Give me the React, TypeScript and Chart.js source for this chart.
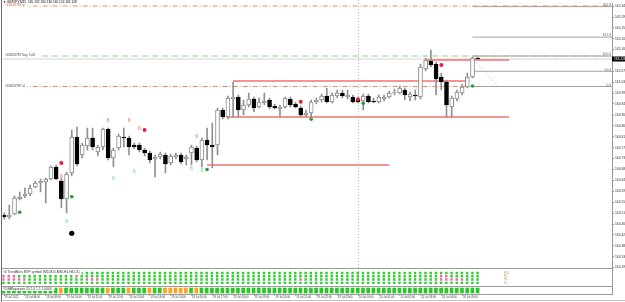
import React, { useEffect, useRef } from 'react';
import { Chart, registerables } from 'chart.js';

Chart.register(...registerables);

const FONT = "'Liberation Sans', Arial, sans-serif";

// ---------- data ----------
const titleText = '▼ GBPJPY,M15  165.132 165.136 165.124 165.128';

const opens = [
  164.504, 164.496, 164.508, 164.568, 164.580, 164.588, 164.616, 164.632, 164.636, 164.648,
  164.696, 164.640, 164.568, 164.672, 164.816, 164.744, 164.780, 164.812, 164.756, 164.776,
  164.848, 164.732, 164.772, 164.816, 164.812, 164.784, 164.784, 164.764, 164.752, 164.728,
  164.736, 164.744, 164.712, 164.736, 164.744, 164.728, 164.752, 164.772, 164.724, 164.804,
  164.784, 164.784, 164.924, 164.896, 164.968, 164.976, 164.924, 164.944, 164.968, 164.936,
  164.952, 164.964, 164.940, 164.928, 164.936, 164.968, 164.948, 164.932, 164.904, 164.912,
  164.956, 164.964, 164.980, 164.956, 164.980, 164.992, 164.976, 164.976, 164.964, 164.960,
  164.980, 164.960, 164.956, 164.968, 164.976, 164.992, 164.992, 165.004, 164.976, 164.984,
  164.976, 165.088, 165.120, 165.108, 165.056, 165.036, 164.936, 164.968, 164.992, 165.016,
  165.056, 165.132,
];
const highs = [
  164.512, 164.544, 164.580, 164.596, 164.612, 164.624, 164.640, 164.648, 164.652, 164.700,
  164.704, 164.652, 164.676, 164.844, 164.856, 164.792, 164.852, 164.852, 164.784, 164.852,
  164.852, 164.772, 164.828, 164.852, 164.820, 164.792, 164.792, 164.772, 164.760, 164.744,
  164.756, 164.752, 164.748, 164.752, 164.752, 164.744, 164.784, 164.780, 164.812, 164.852,
  164.872, 164.932, 164.932, 164.980, 165.036, 164.984, 164.964, 164.992, 164.976, 164.972,
  164.992, 164.972, 164.948, 164.944, 164.976, 164.976, 164.956, 164.940, 164.924, 164.964,
  164.972, 164.988, 165.012, 164.992, 165.004, 165.004, 165.004, 164.984, 164.972, 164.988,
  164.988, 164.972, 164.984, 164.984, 165.000, 165.008, 165.020, 165.012, 164.996, 165.004,
  165.108, 165.132, 165.164, 165.116, 165.072, 165.044, 164.980, 165.004, 165.028, 165.072,
  165.136, 165.136,
];
const lows = [
  164.488, 164.488, 164.504, 164.564, 164.572, 164.580, 164.612, 164.596, 164.552, 164.644,
  164.644, 164.532, 164.512, 164.660, 164.700, 164.732, 164.764, 164.764, 164.740, 164.764,
  164.724, 164.696, 164.764, 164.776, 164.744, 164.768, 164.756, 164.740, 164.712, 164.656,
  164.728, 164.672, 164.704, 164.728, 164.708, 164.704, 164.704, 164.716, 164.696, 164.724,
  164.692, 164.744, 164.888, 164.888, 164.896, 164.896, 164.904, 164.936, 164.916, 164.932,
  164.944, 164.928, 164.928, 164.896, 164.932, 164.936, 164.932, 164.896, 164.896, 164.896,
  164.948, 164.956, 164.952, 164.952, 164.972, 164.972, 164.968, 164.952, 164.952, 164.924,
  164.952, 164.952, 164.952, 164.960, 164.972, 164.984, 164.988, 164.964, 164.960, 164.964,
  164.968, 165.080, 165.096, 164.984, 165.004, 164.896, 164.896, 164.960, 164.984, 165.012,
  165.052, 165.124,
];
const closes = [
  164.496, 164.504, 164.572, 164.576, 164.588, 164.612, 164.632, 164.640, 164.648, 164.696,
  164.648, 164.568, 164.668, 164.816, 164.708, 164.784, 164.812, 164.776, 164.776, 164.848,
  164.732, 164.764, 164.820, 164.812, 164.776, 164.776, 164.764, 164.752, 164.724, 164.736,
  164.748, 164.708, 164.740, 164.744, 164.716, 164.736, 164.776, 164.724, 164.804, 164.784,
  164.776, 164.924, 164.896, 164.972, 164.976, 164.924, 164.944, 164.968, 164.932, 164.956,
  164.960, 164.936, 164.932, 164.936, 164.972, 164.944, 164.936, 164.904, 164.912, 164.956,
  164.964, 164.980, 164.956, 164.984, 164.992, 164.980, 164.984, 164.956, 164.956, 164.980,
  164.956, 164.956, 164.976, 164.976, 164.992, 164.996, 165.012, 164.984, 164.988, 164.980,
  165.096, 165.124, 165.104, 165.048, 165.036, 164.944, 164.972, 164.996, 165.016, 165.056,
  165.132, 165.128,
];

const timeTickIdx = [0, 4, 8, 12, 16, 20, 24, 28, 32, 36, 40, 44, 48, 52, 56, 60, 64, 68, 72, 76, 80, 84, 88];
const timeLabels = [
  '19 Jul 2022', '19 Jul 08:00', '19 Jul 09:00', '19 Jul 10:00', '19 Jul 11:00', '19 Jul 12:00',
  '19 Jul 13:00', '19 Jul 14:00', '19 Jul 15:00', '19 Jul 16:00', '19 Jul 17:00', '19 Jul 18:00',
  '19 Jul 19:00', '19 Jul 20:00', '19 Jul 21:00', '19 Jul 22:00', '19 Jul 23:00', '20 Jul 00:00',
  '20 Jul 01:00', '20 Jul 02:00', '20 Jul 03:00', '20 Jul 04:00', '20 Jul 05:00',
];

const priceTicks = [
  165.340, 165.296, 165.253, 165.209, 165.166, 165.122, 165.078, 165.035, 164.991, 164.948,
  164.904, 164.860, 164.817, 164.773, 164.730, 164.686, 164.642, 164.599, 164.555, 164.512,
  164.468, 164.424, 164.381, 164.337, 164.294,
];

const tpPrice = 165.340;
const buyPrice = 165.140;
const slPrice = 165.018;
const tpText = '#42626787 tp';
const buyText = '#42626787 buy 5.00';
const slText = '#42626787 sl';

const fibLevels = [261.8, 161.8, 100.0, 50.0, 0.0];
const fibLabels = ['261.8', '161.8', '100.0', '50.0', '0.0'];
const fibZero = 165.018;
const fibHundred = 165.140;
const fibStartIdx = 90;
const fibDiagIdx = [90, 95];
const fibDiagPrice = [165.131, 165.017];

const srStart = [81, 44, 43, 39];
const srEnd = [97, 89, 97, 74];
const srPrice = [165.124, 165.040, 164.896, 164.704];

const redDotIdx = [11, 27, 57, 68, 84];
const redDotPrice = [164.712, 164.844, 164.957, 164.967, 165.104];
const greenDotIdx = [3, 13, 39, 59, 69, 90];
const greenDotPrice = [164.515, 164.577, 164.686, 164.887, 164.951, 165.020];
const blackDotIdx = [13];
const blackDotPrice = [164.431];

const orangeMarkIdx = [11, 20, 24, 26, 37];
const orangeMarkPrice = [164.657, 164.880, 164.881, 164.851, 164.817];
const orangeMarkText = ['8', '8', '8', '8', '9'];
const mintMarkIdx = [12, 21, 25, 36, 38];
const mintMarkPrice = [164.477, 164.648, 164.677, 164.688, 164.680];
const mintMarkText = ['9', '9', '0', '8', '0'];

const daySeparators = [68];

// indicator #4 (trend squares), rows top -> bottom
const trendRowValue = [3, 2, 1, 0];
const trendRowStart = [14, 0, 0, 0];
const trendRowPink = [
  [],
  [0, 1, 2, 14, 84, 85],
  [0, 1, 2, 3, 4, 16, 17, 18, 57, 84, 85, 86, 87, 88],
  [],
];
const trendText = '#4 TrendBars MTF symbol (M5,M15,M30,H1,H4,D1)';
const trendTfLabels = ['M15', 'H1', 'H4', 'D1'];

// indicator #5 (squeeze bars)
const squeezeOrange = [11, 20, 24, 28, 31, 32, 33, 34, 35, 37];
const squeezeText = '#5 BBSqueeze 20 2.0 1.5 1.0000';

// ---------- axis settings ----------
const X_MIN = -0.29;
const X_MAX = 116.8;
const Y_MIN = 164.292;
const Y_MAX = 165.352;

const ORANGE = '#f0875e';
const GREEN_LINE = '#86cf86';
const SMALL = 3.3;

function drawSeparators(chart: any) {
  const { ctx, chartArea, scales } = chart;
  ctx.save();
  ctx.strokeStyle = '#b5b5b5';
  ctx.lineWidth = 1;
  ctx.setLineDash([1, 2]);
  daySeparators.forEach((d) => {
    const px = Math.round(scales.x.getPixelForValue(d)) + 0.5;
    ctx.beginPath();
    ctx.moveTo(px, 0);
    ctx.lineTo(px, chartArea.bottom);
    ctx.stroke();
  });
  ctx.restore();
}

const mainOverlay = {
  id: 'mainOverlay',
  beforeDatasetsDraw(chart: any) {
    drawSeparators(chart);
  },
  afterDraw(chart: any) {
    const { ctx, chartArea, scales } = chart;
    const x = scales.x;
    const y = scales.y;
    ctx.save();
    ctx.textBaseline = 'middle';
    ctx.textAlign = 'left';
    // header
    ctx.font = `3.2px ${FONT}`;
    ctx.fillStyle = '#000';
    ctx.fillText(titleText, 3, 2.5);
    // order labels sitting on their lines
    ctx.font = `${SMALL}px ${FONT}`;
    const lbl = (t: string, v: number, color: string) => {
      const py = y.getPixelForValue(v);
      const w = ctx.measureText(t).width;
      ctx.fillStyle = '#fff';
      ctx.fillRect(chartArea.left, py - 2, w + 5, 4);
      ctx.fillStyle = color;
      ctx.fillText(t, 5, py - 0.5);
    };
    lbl(tpText, tpPrice, '#c0603a');
    lbl(buyText, buyPrice, '#444');
    lbl(slText, slPrice, '#444');
    // fib labels
    ctx.textAlign = 'right';
    ctx.textBaseline = 'bottom';
    ctx.fillStyle = '#666';
    fibLevels.forEach((l, k) => {
      const v = fibZero + ((fibHundred - fibZero) * l) / 100;
      ctx.fillText(fibLabels[k], chartArea.right - 1, y.getPixelForValue(v));
    });
    // text markers
    ctx.textAlign = 'center';
    ctx.textBaseline = 'middle';
    ctx.font = `bold 5px ${FONT}`;
    ctx.fillStyle = '#f29a72';
    orangeMarkIdx.forEach((i, k) => {
      ctx.fillText(orangeMarkText[k], x.getPixelForValue(i), y.getPixelForValue(orangeMarkPrice[k]));
    });
    ctx.fillStyle = '#8fdcae';
    mintMarkIdx.forEach((i, k) => {
      ctx.fillText(mintMarkText[k], x.getPixelForValue(i), y.getPixelForValue(mintMarkPrice[k]));
    });
    // current price box
    const last = closes[closes.length - 1];
    const py = y.getPixelForValue(last);
    ctx.fillStyle = '#000';
    ctx.fillRect(chartArea.right, py - 2.5, 14, 5);
    ctx.fillStyle = '#fff';
    ctx.font = `${SMALL}px ${FONT}`;
    ctx.textAlign = 'left';
    ctx.fillText(last.toFixed(3), chartArea.right + 2, py);
    ctx.restore();
  },
};

const panel1Overlay = {
  id: 'panel1Overlay',
  beforeDatasetsDraw(chart: any) {
    drawSeparators(chart);
  },
  afterDatasetsDraw(chart: any) {
    const { ctx, chartArea, scales } = chart;
    ctx.save();
    ctx.font = `${SMALL}px ${FONT}`;
    ctx.textBaseline = 'middle';
    ctx.textAlign = 'left';
    const ty = scales.y.getPixelForValue(trendRowValue[0]) - 0.5;
    const w = ctx.measureText(trendText).width;
    ctx.fillStyle = '#fff';
    ctx.fillRect(chartArea.left, ty - 2.5, w + 3, 5);
    ctx.fillStyle = '#333';
    ctx.fillText(trendText, 3, ty);
    ctx.font = `3px ${FONT}`;
    ctx.fillStyle = '#c9a27a';
    const lx = scales.x.getPixelForValue(96);
    trendTfLabels.forEach((t, k) => {
      ctx.fillText(t, lx, scales.y.getPixelForValue(trendRowValue[k]));
    });
    ctx.restore();
  },
};

const panel2Overlay = {
  id: 'panel2Overlay',
  afterDatasetsDraw(chart: any) {
    const { ctx, chartArea, scales } = chart;
    ctx.save();
    ctx.font = `${SMALL}px ${FONT}`;
    ctx.textBaseline = 'middle';
    ctx.textAlign = 'left';
    const w = ctx.measureText(squeezeText).width;
    ctx.fillStyle = '#fff';
    ctx.fillRect(chartArea.left, chartArea.top, w + 4, 4);
    ctx.fillStyle = '#333';
    ctx.fillText(squeezeText, 3, chartArea.top + 2.2);
    // time axis labels
    ctx.font = `2.7px ${FONT}`;
    ctx.textBaseline = 'top';
    ctx.fillStyle = '#333';
    ctx.strokeStyle = '#777';
    ctx.lineWidth = 1;
    timeTickIdx.forEach((i, k) => {
      const px = scales.x.getPixelForValue(i);
      ctx.beginPath();
      ctx.moveTo(Math.round(px) + 0.5, chartArea.bottom);
      ctx.lineTo(Math.round(px) + 0.5, chartArea.bottom + 1.5);
      ctx.stroke();
      ctx.fillText(timeLabels[k], px + 1, chartArea.bottom + 2.4);
    });
    ctx.restore();
  },
};

function hLine(x0: number, x1: number, v: number, color: string, width: number, dash: number[], order: number) {
  return {
    type: 'line',
    data: [
      { x: x0, y: v },
      { x: x1, y: v },
    ],
    borderColor: color,
    borderWidth: width,
    borderDash: dash,
    pointRadius: 0,
    pointHoverRadius: 0,
    fill: false,
    tension: 0,
    order,
  };
}

function dots(idx: number[], prices: number[], color: string, r: number) {
  return {
    type: 'line',
    showLine: false,
    data: idx.map((i, k) => ({ x: i, y: prices[k] })),
    pointRadius: r,
    pointHoverRadius: r,
    pointBackgroundColor: color,
    pointBorderWidth: 0,
    order: 1,
  };
}

function mainConfig(): any {
  const idx = closes.map((_, i) => i);
  const bull = idx.map((i) => closes[i] >= opens[i]);
  const fibPrice = (l: number) => fibZero + ((fibHundred - fibZero) * l) / 100;
  const datasets: any[] = [
    hLine(X_MIN, X_MAX, tpPrice, ORANGE, 1, [5, 2, 1, 2], 12),
    hLine(X_MIN, X_MAX, buyPrice, GREEN_LINE, 1, [5, 2, 1, 2], 12),
    hLine(X_MIN, X_MAX, slPrice, ORANGE, 1, [5, 2, 1, 2], 12),
    hLine(X_MIN, X_MAX, closes[closes.length - 1], '#d2d2d2', 1, [], 13),
    ...fibLevels.map((l) => hLine(fibStartIdx, X_MAX, fibPrice(l), '#a3a3a3', 1, [], 11)),
    {
      type: 'line',
      data: fibDiagIdx.map((i, k) => ({ x: i, y: fibDiagPrice[k] })),
      borderColor: '#f3a3a3',
      borderWidth: 1,
      borderDash: [1, 2],
      pointRadius: 0,
      order: 11,
    },
    ...srPrice.map((v, k) => hLine(srStart[k], srEnd[k], v, '#f37171', 1.5, [], 9)),
    {
      type: 'bar',
      data: idx.map((i) => ({ x: i, y: [lows[i], highs[i]] })),
      backgroundColor: '#909090',
      borderWidth: 0,
      barThickness: 1,
      grouped: false,
      order: 6,
    },
    {
      type: 'bar',
      data: idx.map((i) => ({ x: i, y: [opens[i], closes[i]] })),
      backgroundColor: idx.map((i) => (bull[i] ? '#ffffff' : '#000000')),
      borderColor: idx.map((i) => (bull[i] ? '#8a8a8a' : '#000000')),
      borderWidth: 1,
      borderSkipped: false,
      barThickness: 4,
      grouped: false,
      order: 5,
    },
    dots(redDotIdx, redDotPrice, '#e51f3a', 2),
    dots(greenDotIdx, greenDotPrice, '#2a9a3a', 1.8),
    dots(blackDotIdx, blackDotPrice, '#000000', 2.6),
  ];
  return {
    type: 'bar',
    data: { datasets },
    options: {
      responsive: false,
      animation: false,
      devicePixelRatio: 1,
      events: [],
      layout: { padding: { left: 2, top: 3, right: 0, bottom: 4 } },
      plugins: { legend: { display: false }, tooltip: { enabled: false } },
      scales: {
        x: { type: 'linear', min: X_MIN, max: X_MAX, display: false, offset: false },
        y: {
          type: 'linear',
          position: 'right',
          min: Y_MIN,
          max: Y_MAX,
          afterBuildTicks: (ax: any) => {
            ax.ticks = priceTicks.map((v) => ({ value: v }));
          },
          afterFit: (ax: any) => {
            ax.width = 13;
          },
          ticks: {
            autoSkip: false,
            padding: 1,
            color: '#333',
            font: { size: SMALL, family: FONT },
            callback: (v: any) => Number(v).toFixed(3),
          },
          grid: { drawOnChartArea: false, drawTicks: true, tickLength: 2, color: '#888' },
          border: { display: true, color: '#9a9a9a' },
        },
      },
    },
    plugins: [mainOverlay],
  };
}

function panel1Config(): any {
  const greenPts: any[] = [];
  const pinkPts: any[] = [];
  trendRowValue.forEach((rv, r) => {
    for (let i = trendRowStart[r]; i < closes.length; i++) {
      (trendRowPink[r].includes(i) ? pinkPts : greenPts).push({ x: i, y: rv });
    }
  });
  const sq = (data: any[], color: string) => ({
    data,
    pointStyle: 'rect',
    pointRadius: 1.7,
    pointHoverRadius: 1.7,
    backgroundColor: color,
    borderWidth: 0,
  });
  return {
    type: 'scatter',
    data: { datasets: [sq(greenPts, '#2ccd2c'), sq(pinkPts, '#ea6aa0')] },
    options: {
      responsive: false,
      animation: false,
      devicePixelRatio: 1,
      events: [],
      layout: { padding: { left: 2, right: 13, top: 0, bottom: 0 } },
      plugins: { legend: { display: false }, tooltip: { enabled: false } },
      scales: {
        x: { type: 'linear', min: X_MIN, max: X_MAX, display: false },
        y: { type: 'linear', min: -0.75, max: 4, display: false },
      },
    },
    plugins: [panel1Overlay],
  };
}

function panel2Config(): any {
  const idx = closes.map((_, i) => i);
  return {
    type: 'bar',
    data: {
      datasets: [
        {
          data: idx.map((i) => ({ x: i, y: [0, 1] })),
          backgroundColor: idx.map((i) => (squeezeOrange.includes(i) ? '#ffa31a' : '#27c727')),
          borderWidth: 0,
          barThickness: 3,
          grouped: false,
        },
      ],
    },
    options: {
      responsive: false,
      animation: false,
      devicePixelRatio: 1,
      events: [],
      layout: { padding: { left: 2, right: 13, top: 1, bottom: 8 } },
      plugins: { legend: { display: false }, tooltip: { enabled: false } },
      scales: {
        x: { type: 'linear', min: X_MIN, max: X_MAX, offset: false, display: false },
        y: { type: 'linear', min: -0.2, max: 1.2, display: false },
      },
    },
    plugins: [panel2Overlay],
  };
}

export default function App() {
  const mainRef = useRef<HTMLCanvasElement>(null);
  const p1Ref = useRef<HTMLCanvasElement>(null);
  const p2Ref = useRef<HTMLCanvasElement>(null);

  useEffect(() => {
    const charts: Chart[] = [];
    if (p1Ref.current) charts.push(new Chart(p1Ref.current, panel1Config()));
    if (p2Ref.current) charts.push(new Chart(p2Ref.current, panel2Config()));
    if (mainRef.current) charts.push(new Chart(mainRef.current, mainConfig()));
    return () => charts.forEach((c) => c.destroy());
  }, []);

  const abs = (s: any) => ({ position: 'absolute' as const, ...s });
  return (
    <div
      style={{
        position: 'fixed',
        left: 0,
        top: 0,
        width: 625,
        height: 302,
        background: '#ffffff',
        overflow: 'hidden',
      }}
    >
      <canvas ref={p1Ref} width={625} height={19} style={abs({ left: 0, top: 268 })} />
      <canvas ref={p2Ref} width={625} height={16} style={abs({ left: 0, top: 286 })} />
      <canvas ref={mainRef} width={625} height={272} style={abs({ left: 0, top: 0 })} />
      <div style={abs({ left: 1, top: 0, width: 1, height: 302, background: '#6a6a6a' })} />
      <div style={abs({ left: 2, top: 268, width: 611, height: 1, background: '#9c9c9c' })} />
      <div style={abs({ left: 2, top: 286, width: 611, height: 1, background: '#9c9c9c' })} />
      <div style={abs({ left: 2, top: 294, width: 611, height: 1, background: '#9c9c9c' })} />
      <div style={abs({ left: 612, top: 268, width: 1, height: 27, background: '#9c9c9c' })} />
      <div style={abs({ left: 0, top: 300, width: 625, height: 1, background: '#c4c4c4' })} />
    </div>
  );
}
